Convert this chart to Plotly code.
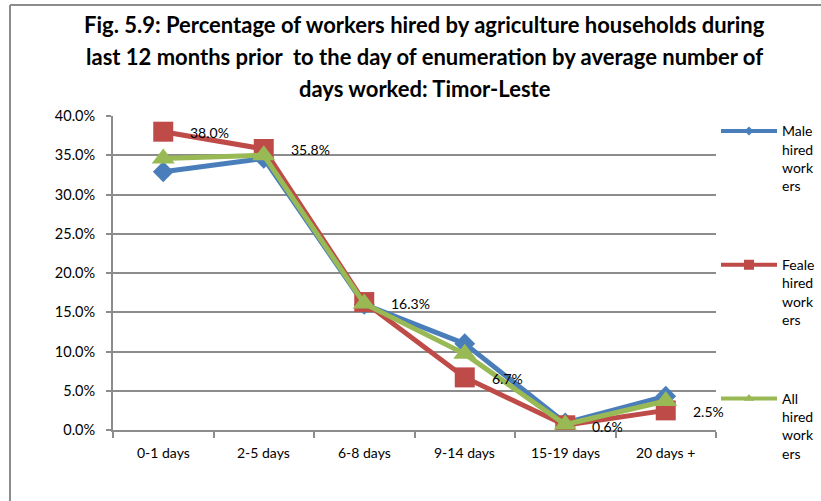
import plotly.graph_objects as go

categories = ["0-1 days", "2-5 days", "6-8 days", "9-14 days", "15-19 days", "20 days +"]
male = [32.9, 34.6, 16.0, 11.0, 0.9, 4.3]
female = [38.0, 35.8, 16.3, 6.7, 0.6, 2.5]
all_workers = [34.6, 35.0, 16.1, 9.7, 0.7, 3.7]

series_names = [
    "Male<br>hired<br>work<br>ers",
    "Feale<br>hired<br>work<br>ers",
    "All<br>hired<br>work<br>ers",
]

title_lines = [
    "Fig. 5.9: Percentage of workers hired by agriculture households during",
    "last 12 months prior  to the day of enumeration by average number of",
    "days worked: Timor-Leste",
]

FONT = "Lato"
BLUE, RED, GREEN = "#4a7ebb", "#be4b48", "#98b954"
GRID = "#8c8c8c"

fig = go.Figure()

styles = [
    (male, BLUE, "diamond", 16, 7),
    (female, RED, "square", 20, 10),
    (all_workers, GREEN, "triangle-up", 20, 9),
]

for (vals, color, sym, msize, lsize), name in zip(styles, series_names):
    # data series
    fig.add_trace(go.Scatter(
        x=categories, y=vals, mode="lines+markers", showlegend=False,
        line=dict(color=color, width=5),
        marker=dict(symbol=sym, size=msize, color=color),
        hoverinfo="x+y",
    ))
    # legend entry with a compact marker
    fig.add_trace(go.Scatter(
        x=[None], y=[None], mode="lines+markers", name=name, legendgroup=name,
        line=dict(color=color, width=4),
        marker=dict(symbol=sym, size=lsize, color=color),
    ))

fig.update_layout(
    width=821, height=501,
    paper_bgcolor="white", plot_bgcolor="white",
    margin=dict(l=113, r=105, t=116, b=71, autoexpand=False),
    font=dict(family=FONT, size=14, color="#000000"),
    xaxis=dict(
        showgrid=False, showline=True, linecolor=GRID, linewidth=2,
        ticks="outside", ticklen=6, tickcolor=GRID, tickwidth=2,
        tickmode="array", tickvals=[-0.5, 0.5, 1.5, 2.5, 3.5, 4.5, 5.5],
        ticktext=[""] * 7,
        range=[-0.5, 5.5],
    ),
    yaxis=dict(
        range=[0, 40], dtick=5, tickformat=".1f", ticksuffix="%",
        showgrid=True, gridcolor=GRID, gridwidth=2,
        showline=True, linecolor=GRID, linewidth=2,
        ticks="outside", ticklen=5, tickcolor=GRID, tickwidth=2,
        zeroline=False, ticklabelstandoff=8,
        tickfont=dict(family=FONT, size=14.5),
    ),
    legend=dict(
        x=1.0, xanchor="left", y=1.002, yanchor="top",
        valign="top", tracegroupgap=58, itemwidth=56,
        font=dict(family=FONT, size=14),
        bgcolor="rgba(0,0,0,0)", maxheight=480,
    ),
    showlegend=True,
)

# title, one annotation per line
for line, ypx in zip(title_lines, [25, 57, 88]):
    fig.add_annotation(x=0.5174, y=(430 - ypx) / 314, xref="paper", yref="paper",
                       xanchor="center", yanchor="middle", showarrow=False,
                       text=f"<b>{line}</b>",
                       font=dict(family=FONT, size=22, color="#000000"))

# category labels placed under each category
for c in categories:
    fig.add_annotation(x=c, y=0, xref="x", yref="y", yshift=-12, yanchor="top",
                       text=c, showarrow=False, font=dict(family=FONT, size=14))

# value labels for the female series
for c, v in zip(categories, female):
    fig.add_annotation(x=c, y=v, xref="x", yref="y", xanchor="left", yanchor="middle",
                       xshift=25, yshift=-1, text=f"{v:.1f}%", showarrow=False,
                       font=dict(family=FONT, size=14, color="#000000"))

# chart frame (left and top edges)
x_left = (10 - 113) / 603
y_top = (430 - 5) / 314
fig.add_shape(type="line", xref="paper", yref="paper",
              x0=x_left, x1=x_left, y0=y_top, y1=-0.3,
              line=dict(color=GRID, width=2))
fig.add_shape(type="line", xref="paper", yref="paper",
              x0=x_left, x1=1.3, y0=y_top, y1=y_top,
              line=dict(color=GRID, width=2))

fig.write_html("out.html")
